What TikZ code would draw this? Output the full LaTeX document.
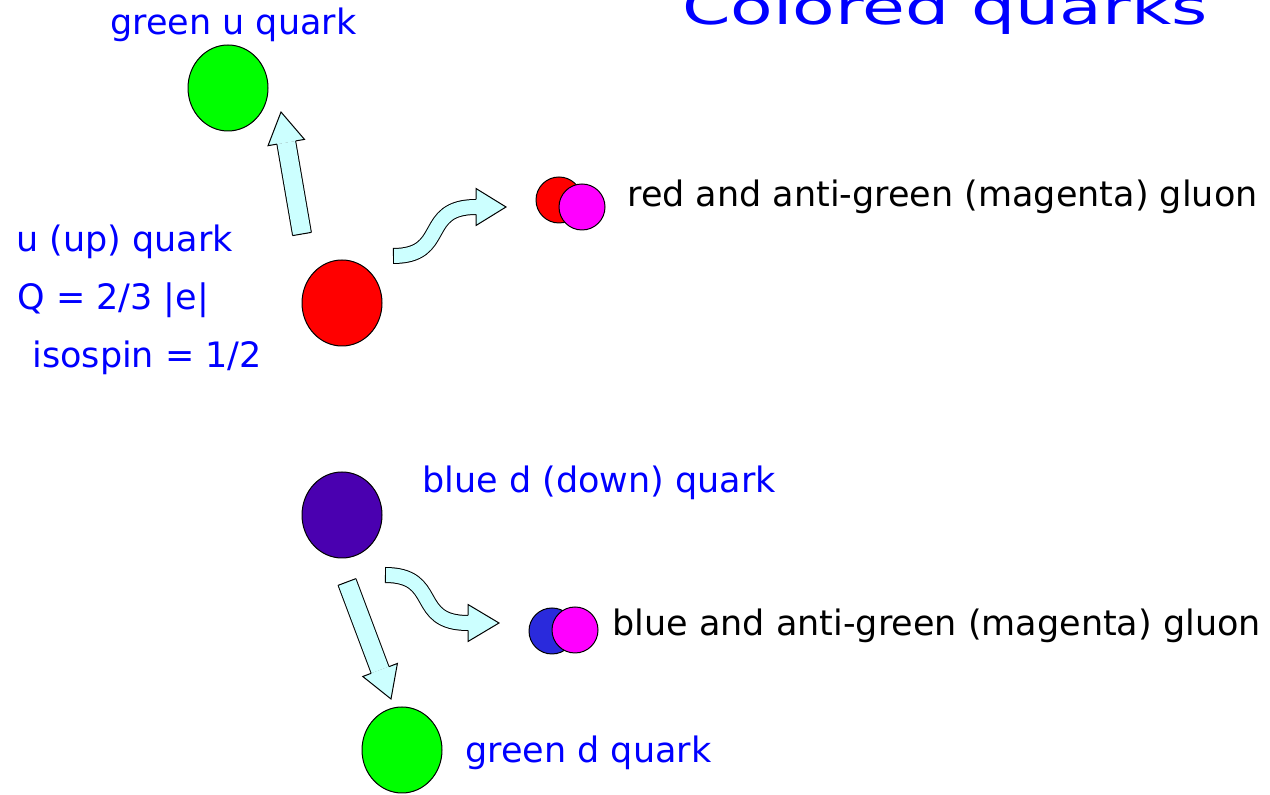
\documentclass[tikz,border=0pt]{standalone}
\usepackage{fontspec,graphicx}
\setmainfont{DejaVu Sans}
\usetikzlibrary{calc,shapes.geometric}
\definecolor{qblue}{HTML}{0000FF}
\definecolor{qgreen}{HTML}{00FF00}
\definecolor{qred}{HTML}{FF0000}
\definecolor{qmagenta}{HTML}{FF00FF}
\definecolor{qpurple}{HTML}{4A00B0}
\definecolor{qgblue}{HTML}{2A2ADC}
\definecolor{pale}{HTML}{CCFFFF}
% arrow head: #1 head base, #2 tip, #3 half band
\newcommand{\tipat}[3]{%
  \fill[pale] ($(#1)!9.25pt!90:(#2)$) -- (#2) -- ($(#1)!9.25pt!-90:(#2)$) -- cycle;
  \draw[outline] ($(#1)!#3!90:(#2)$) -- ($(#1)!9.25pt!90:(#2)$) -- (#2)
    -- ($(#1)!9.25pt!-90:(#2)$) -- ($(#1)!#3!-90:(#2)$);}
% closed tail: #1 tail, #2 point ahead, #3 half band
\newcommand{\tailat}[3]{%
  \draw[outline] ($(#1)!#3!90:(#2)$) -- ($(#1)!#3!-90:(#2)$);}

\begin{document}
\begin{tikzpicture}[x=0.5pt,y=-0.5pt,font=\fontsize{17.5}{21}\selectfont,
outline/.style={draw=black,line width=0.5pt},
quark/.style={ellipse,draw=black,line width=0.5pt,inner sep=0pt,minimum width=40pt,minimum height=43pt},
gluon/.style={circle,draw=black,line width=0.5pt,inner sep=0pt,minimum size=23pt},
qtext/.style={anchor=base west,text=qblue,inner sep=0pt},
band/.style={draw=black,line width=0.5pt,double=pale,double distance=#1}]
\useasboundingbox (0,0) rectangle (1270,795);
\clip (0,0) rectangle (1270,795);
% quarks and gluons
\node[quark,fill=qgreen](gu) at (228,88) {};
\node[quark,fill=qred](uq) at (342,303) {};
\node[quark,fill=qpurple](dq) at (342,515) {};
\node[quark,fill=qgreen](gd) at (402,750) {};
\node[gluon,fill=qred](rg) at (559,200) {};
\node[gluon,fill=qmagenta](mg1) at (582,207) {};
\node[gluon,fill=qgblue](bg) at (552,631) {};
\node[gluon,fill=qmagenta](mg2) at (575,630) {};
% texts
\node[qtext,font=\fontsize{24}{28}\selectfont](title) at (682,25) {\scalebox{1.45}[1]{Colored quarks}};
\node[qtext](gutext) at (110,35) {green u quark};
\node[qtext](uqname) at (16,252) {u (up) quark};
\node[qtext](uqcharge) at (17,310) {Q = 2/3 |e|};
\node[qtext](uqspin) at (32,368) {isospin = 1/2};
\node[qtext](dqtext) at (422,493) {blue d (down) quark};
\node[qtext](gdtext) at (465,763) {green d quark};
\node[qtext,text=black](rgtext) at (627,207) {red and anti-green (magenta) gluon};
\node[qtext,text=black](bgtext) at (612,636) {blue and anti-green (magenta) gluon};
% arrow ends
\coordinate (up0) at (302,234);
\coordinate (up1) at (281,112);
\coordinate (dn0) at (347,582);
\coordinate (dn1) at (391,699);
\coordinate (ug0) at (393,256);
\coordinate (ug0r) at (403,256);
\coordinate (ug1) at (476,207);
\coordinate (ug2) at (506,207);
\coordinate (dg0) at (385,575);
\coordinate (dg0r) at (395,575);
\coordinate (dg1) at (468,623);
\coordinate (dg2) at (499,623);
\coordinate (uph) at ($(up1)!15.5pt!(up0)$);
\coordinate (dnh) at ($(dn1)!15.5pt!(dn0)$);
% straight arrows
\draw[band=9pt](up0)--(uph);
\tailat{up0}{up1}{4.75pt}
\tipat{uph}{up1}{4.75pt}
\draw[band=9pt](dn0)--(dnh);
\tailat{dn0}{dn1}{4.75pt}
\tipat{dnh}{dn1}{4.75pt}
% curved arrows
\draw[band=7pt](ug0) .. controls +(56,0) and +(-56,0) .. (ug1);
\tailat{ug0}{ug0r}{3.75pt}
\tipat{ug1}{ug2}{3.75pt}
\draw[band=7pt](dg0) .. controls +(56,0) and +(-56,0) .. (dg1);
\tailat{dg0}{dg0r}{3.75pt}
\tipat{dg1}{dg2}{3.75pt}
\end{tikzpicture}
\end{document}
